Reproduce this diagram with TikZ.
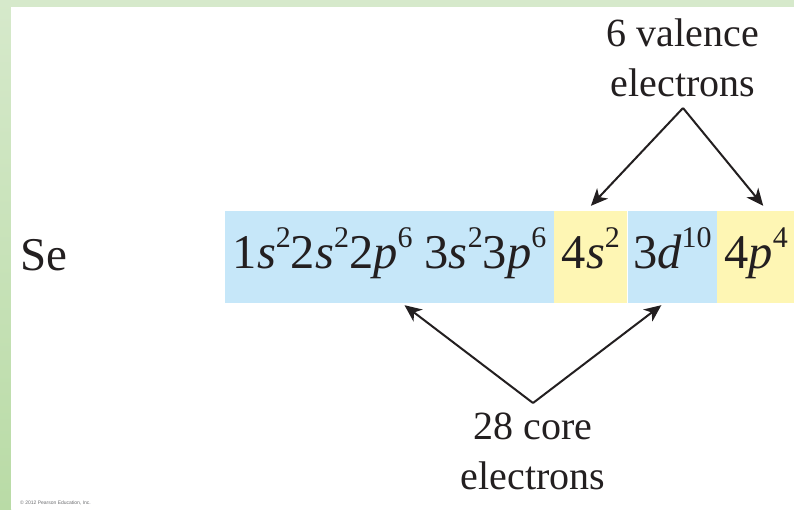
\documentclass[tikz,border=0pt]{standalone}
\usepackage{fontspec}
\setmainfont{Liberation Serif}
\setsansfont{Liberation Sans}
\usepackage{xcolor}
\usepackage{tikz}
\usetikzlibrary{arrows.meta,positioning,calc}
\definecolor{cFrameTop}{HTML}{D6E9CB}
\definecolor{cFrameBot}{HTML}{B9DBA6}
\definecolor{cCore}{HTML}{C6E7F9}
\definecolor{cVal}{HTML}{FEF6B4}
\definecolor{cInk}{HTML}{231F20}
\definecolor{cGray}{HTML}{6D6E71}
\newcommand{\orb}[3]{#1\textit{#2}\raisebox{0.42em}{\fontsize{30}{30}\selectfont #3}}
\tikzset{
  shell/.style={fill=#1,draw=none,minimum height=92pt,inner sep=0pt,text height=34pt,text depth=12pt,text=cInk,font=\fontsize{48.5}{56}\selectfont},
  shell/.default=cCore,
  arr/.style={-{Stealth[length=17pt,width=15pt,inset=5pt]},line width=2pt,color=cInk},
  lbl/.style={align=center,text=cInk,font=\fontsize{40}{50}\selectfont,inner sep=0pt},
}
\begin{document}
\begin{tikzpicture}[x=1pt,y=-1pt]
  \useasboundingbox (0,0) rectangle (794,509);
  % frame
  \fill[cFrameTop] (0,0) rectangle (794,7);
  \shade[top color=cFrameTop,bottom color=cFrameBot] (0,0) rectangle (11,509);
  \fill[white] (11,7) rectangle (794,509);
  % element symbol
  \node[anchor=base west,inner sep=0pt,text=cInk,font=\fontsize{47}{56}\selectfont] (se) at (20,270) {Se};
  % configuration boxes
  \node[shell=cCore,minimum width=329pt] (b1) at (389.5,257) {\orb{1}{s}{2}\orb{2}{s}{2}\orb{2}{p}{6} \orb{3}{s}{2}\orb{3}{p}{6}};
  \node[shell=cVal,minimum width=73pt,right=0pt of b1] (b2) {\orb{4}{s}{2}};
  \node[shell=cCore,minimum width=89pt,right=0pt of b2] (b3) {\orb{3}{d}{10}};
  \node[shell=cVal,minimum width=78pt,right=0pt of b3] (b4) {\orb{4}{p}{4}};
  % labels
  \node[lbl] (val) at (683,58) {6 valence\\electrons};
  \node[lbl] (core) at (533,451) {28 core\\electrons};
  \coordinate (vtop) at (683,108);
  \coordinate (cbot) at (533,403);
  \draw[arr] (vtop) -- ([yshift=5pt]b2.north);
  \draw[arr] (vtop) -- ([xshift=7pt,yshift=5pt]b4.north);
  \draw[arr] (cbot) -- ([xshift=15pt,yshift=-2pt]b1.south);
  \draw[arr] (cbot) -- ([xshift=-11pt,yshift=-2pt]b3.south);
  \node[anchor=west,inner sep=0pt,text=cGray,font=\sffamily\fontsize{5}{6}\selectfont] (copy) at (20,503) {© 2012 Pearson Education, Inc.};
\end{tikzpicture}
\end{document}
